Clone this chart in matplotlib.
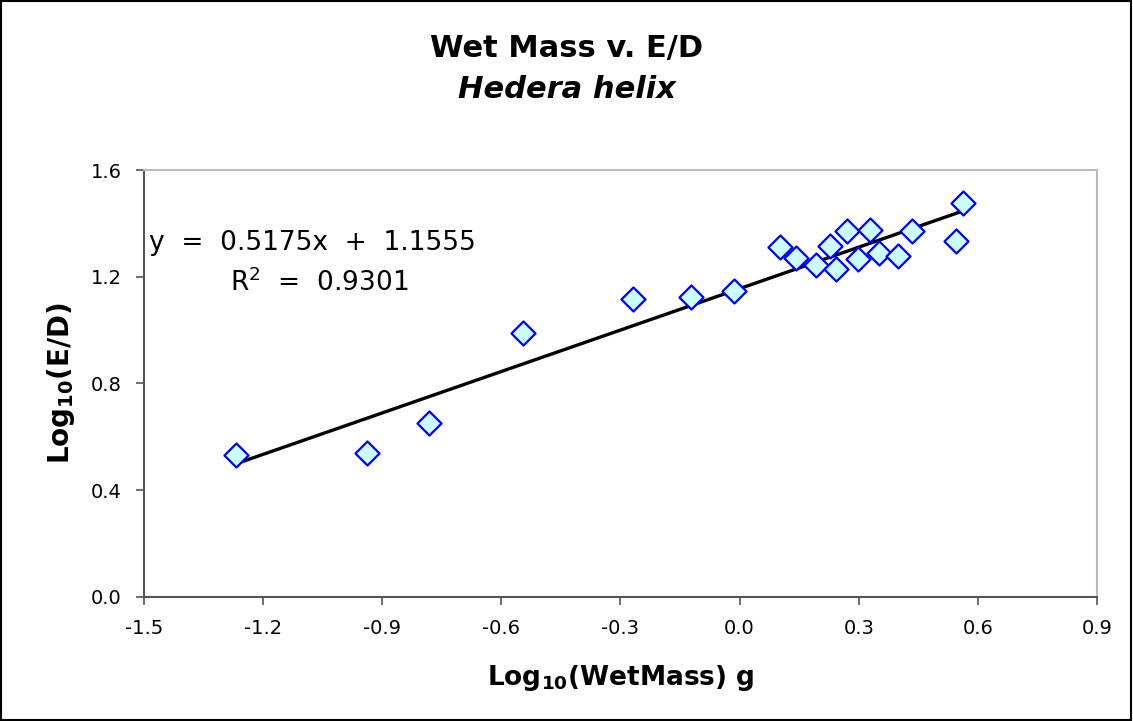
import matplotlib
matplotlib.use('Agg')
import matplotlib.pyplot as plt
import numpy as np

# log10 wet mass (g) and log10 E/D
log_mass = [-1.269, -0.939, -0.782, -0.546, -0.269, -0.122, -0.013,
            0.101, 0.143, 0.192, 0.228, 0.242, 0.270, 0.298, 0.328,
            0.351, 0.398, 0.433, 0.544, 0.563]
log_ed = [0.533, 0.541, 0.653, 0.990, 1.115, 1.125, 1.145,
          1.313, 1.271, 1.243, 1.315, 1.229, 1.370, 1.265, 1.376,
          1.290, 1.277, 1.371, 1.334, 1.475]

slope = 0.5175
intercept = 1.1555
r_squared = 0.9301

x_ticks = [-1.5, -1.2, -0.9, -0.6, -0.3, 0.0, 0.3, 0.6, 0.9]
y_ticks = [0.0, 0.4, 0.8, 1.2, 1.6]

plt.rcParams['font.family'] = ['DejaVu Sans']

fig = plt.figure(figsize=(11.33, 7.21), dpi=100)
ax = fig.add_axes([0.1271, 0.172, 0.8411, 0.5922])

ax.scatter(log_mass, log_ed, marker='D', s=150, facecolor='#ccffff',
           edgecolor='#0000ff', linewidths=1.6, zorder=3)

xx = np.array([min(log_mass), max(log_mass)])
ax.plot(xx, slope * xx + intercept, color='black', lw=2.4, zorder=2)

ax.set_xlim(-1.5, 0.9)
ax.set_ylim(0.0, 1.6)
ax.set_xticks(x_ticks)
ax.set_yticks(y_ticks)
ax.set_xticklabels(['%.1f' % t for t in x_ticks])
ax.set_yticklabels(['%.1f' % t for t in y_ticks])
ax.tick_params(direction='out', length=6, width=1.2, color='#555555',
               labelsize=14, pad=10)

for side in ['top', 'right']:
    ax.spines[side].set_color('#bbbbbb')
    ax.spines[side].set_linewidth(1.5)
for side in ['left', 'bottom']:
    ax.spines[side].set_color('#555555')
    ax.spines[side].set_linewidth(1.5)

ax.set_xlabel(r'Log$_{\mathregular{10}}$(WetMass) g', fontsize=19,
              fontweight='bold', labelpad=18)
ax.set_ylabel(r'Log$_{\mathregular{10}}$(E/D)', fontsize=20,
              fontweight='bold', labelpad=10)

ax.text(0.005, 0.83, 'y  =  %.4fx  +  %.4f' % (slope, intercept),
        transform=ax.transAxes, fontsize=19, va='center', ha='left')
ax.text(0.09, 0.735, r'R$^{\mathregular{2}}$  =  %.4f' % r_squared,
        transform=ax.transAxes, fontsize=19, va='center', ha='left')

fig.text(0.5, 0.933, 'Wet Mass v. E/D', ha='center', va='center',
         fontsize=22, fontweight='bold')
fig.text(0.5, 0.876, 'Hedera helix', ha='center', va='center',
         fontsize=22, fontweight='bold', style='italic')

# outer chart border
fig.patches.append(plt.Rectangle((0.0005, 0.001), 0.998, 0.998,
                                 transform=fig.transFigure, fill=False,
                                 edgecolor='black', lw=1.5))

fig.savefig('out.png', dpi=100)
